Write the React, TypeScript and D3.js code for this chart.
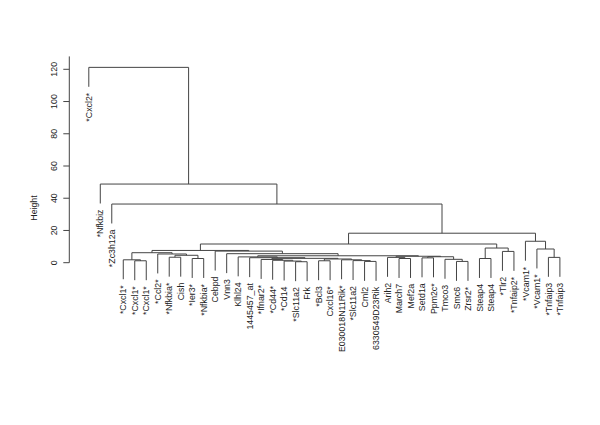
import React from 'react';
import * as d3 from 'd3';

// Leaf labels in dendrogram order (left to right)
const leafLabels = [
  '*Cxcl2*', '*Nfkbiz', '*Zc3h12a', '*Cxcl1*', '*Cxcl1*', '*Cxcl1*', '*Ccl2*',
  '*Nfkbia*', 'Cish', '*Ier3*', '*Nfkbia*', 'Cebpd', 'Vnn3', 'Klhl24', '1445457_at',
  '*Ifnar2*', '*Cd44*', '*Cd14', '*Slc11a2', 'Frk', '*Bcl3', 'Cxcl16*',
  'E030018N11Rik*', '*Slc11a2', 'Cml2', '6330549D23Rik', 'Arih2', 'March7', 'Mef2a',
  'Setd1a', 'Ppm2c*', 'Tmco3', 'Smc6', 'Zrsr2*', 'Steap4', 'Steap4', '*Tlr2',
  '*Tnfaip2*', '*Vcam1*', '*Vcam1*', '*Tnfaip3', '*Tnfaip3',
];

// hclust-style merge table: negative = leaf (1-based position), positive = earlier merge row
const mergeLeft = [
  -5, -4, -8, -10, 3, -7, 2, -19, -18, -17, -16, -25, -24, -23, -21, 15, 11, -15, -14,
  -28, -27, -30, -33, -32, 22, 21, 19, -13, -12, 7, -35, -37, 31, 30, -41, -40, -39,
  34, -3, -2, -1,
];
const mergeRight = [
  -6, 1, -9, -11, 4, 5, 6, -20, 8, 9, 10, -26, 12, 13, -22, 14, 16, 17, 18,
  -29, 20, -31, -34, 23, 24, 25, 26, 27, 28, 29, -36, -38, 32, 33, -42, 35, 36,
  37, 38, 39, 40,
];
const mergeHeight = [
  1.2, 1.8, 3.4, 2.6, 4.6, 5.4, 6.2, 0.6, 1.0, 1.5, 2.0, 0.8, 1.3, 1.8, 1.2, 2.3, 2.7, 3.1, 3.6,
  2.6, 3.3, 3.0, 0.8, 2.1, 3.7, 4.0, 4.3, 5.6, 7.2, 7.6, 2.6, 7.0, 9.1, 11.6, 3.3, 8.5, 13.3,
  18.3, 36.4, 48.8, 121.2,
];

const yTicks = [0, 20, 40, 60, 80, 100, 120];
const yLabel = 'Height';

const FONT = '"Liberation Sans", Arial, Helvetica, sans-serif';

export default function App() {
  const W = 600;
  const H = 425;
  const x = d3.scaleLinear().domain([0, leafLabels.length - 1]).range([88.8, 559.9]);
  const y = d3.scaleLinear().domain([0, 120]).range([262.7, 69.3]);
  const axisX = 69.3;
  const axisTop = 128;
  const hang = 0.1 * ((d3.max(mergeHeight) as number) - (d3.min(mergeHeight) as number));
  const labelOffset = 6;
  const fontSize = 8.8;

  const nodeX: number[] = [];
  const leafEnd: number[] = new Array(leafLabels.length).fill(0);
  const paths: string[] = [];
  mergeHeight.forEach((h, k) => {
    const ch = [mergeLeft[k], mergeRight[k]].map((c) => {
      if (c < 0) {
        leafEnd[-c - 1] = h - hang;
        return { x: x(-c - 1), h: h - hang };
      }
      return { x: nodeX[c - 1], h: mergeHeight[c - 1] };
    });
    nodeX[k] = (ch[0].x + ch[1].x) / 2;
    const p = d3.path();
    p.moveTo(ch[0].x, y(ch[0].h));
    p.lineTo(ch[0].x, y(h));
    p.lineTo(ch[1].x, y(h));
    p.lineTo(ch[1].x, y(ch[1].h));
    paths.push(p.toString());
  });

  return (
    <svg
      width={W}
      height={H}
      style={{ position: 'absolute', left: 0, top: 0, background: '#fff' }}
      fontFamily={FONT}
    >
      <rect x={0} y={0} width={W} height={H} fill="#fff" />
      <g fill="none" stroke="#444" strokeWidth={1}>
        {paths.map((d, i) => (
          <path key={i} d={d} />
        ))}
      </g>
      <g fill="#222" fontSize={fontSize}>
        {leafLabels.map((lab, i) => (
          <text
            key={i}
            transform={`translate(${x(i)},${y(leafEnd[i]) + labelOffset}) rotate(-90)`}
            textAnchor="end"
            dy="0.35em"
          >
            {lab}
          </text>
        ))}
      </g>
      <g stroke="#444" strokeWidth={1} fill="none">
        <line x1={axisX} x2={axisX} y1={y(0)} y2={y(axisTop)} />
        {yTicks.map((t) => (
          <line key={t} x1={axisX - 6} x2={axisX} y1={y(t)} y2={y(t)} />
        ))}
      </g>
      <g fill="#222" fontSize={fontSize}>
        {yTicks.map((t) => (
          <text
            key={t}
            transform={`translate(54,${y(t)}) rotate(-90)`}
            textAnchor="middle"
            dy="0.35em"
          >
            {t}
          </text>
        ))}
        <text transform={`translate(33.5,208) rotate(-90)`} textAnchor="middle" dy="0.35em">
          {yLabel}
        </text>
      </g>
    </svg>
  );
}
